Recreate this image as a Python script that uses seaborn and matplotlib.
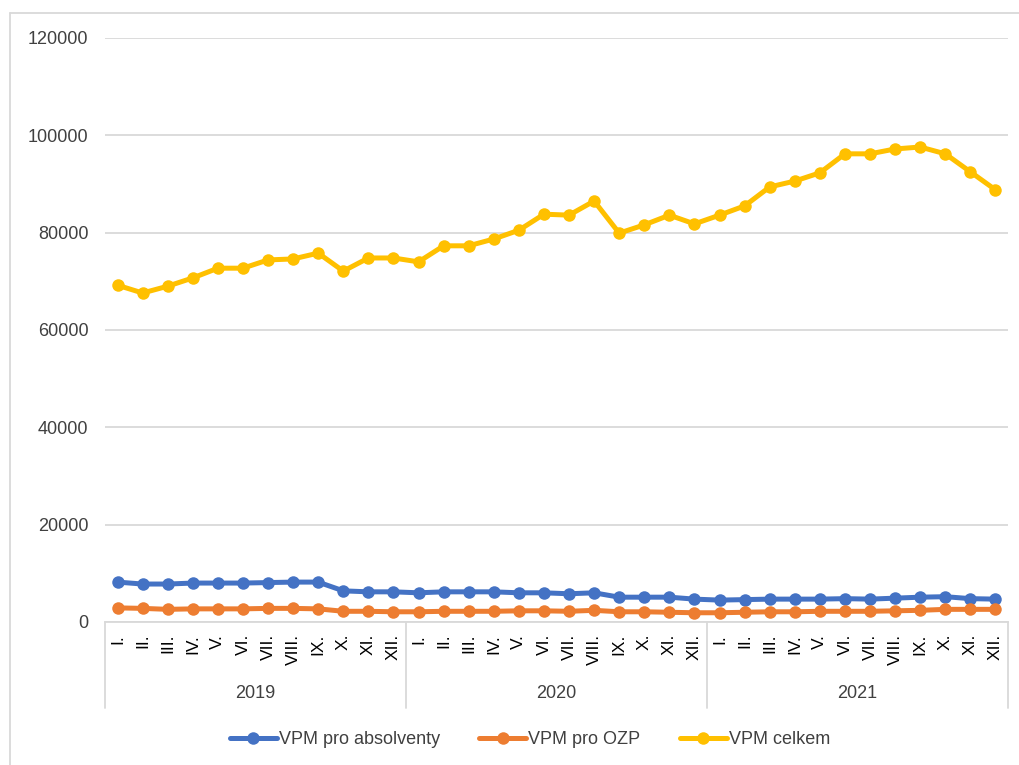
import numpy as np
import pandas as pd
import matplotlib
matplotlib.use("Agg")
import matplotlib.pyplot as plt
import matplotlib.transforms as mtransforms
from matplotlib.lines import Line2D
import seaborn as sns

# --- data ---
years = ["2019", "2020", "2021"]
months = ["I.", "II.", "III.", "IV.", "V.", "VI.", "VII.", "VIII.", "IX.", "X.", "XI.", "XII."]

vpm_absolventy = [8200, 7800, 7800, 8000, 8000, 8000, 8100, 8200, 8200, 6400, 6200, 6200,
                  6000, 6200, 6200, 6200, 6000, 6000, 5800, 6000, 5100, 5100, 5100, 4700,
                  4500, 4600, 4700, 4700, 4700, 4800, 4700, 4900, 5100, 5200, 4800, 4700]
vpm_ozp = [2900, 2800, 2600, 2700, 2700, 2700, 2800, 2800, 2700, 2200, 2200, 2100,
           2100, 2200, 2200, 2200, 2300, 2300, 2200, 2400, 2100, 2100, 2000, 1900,
           1900, 2000, 2100, 2100, 2200, 2200, 2200, 2300, 2400, 2600, 2600, 2600]
vpm_celkem = [69200, 67600, 69000, 70700, 72700, 72700, 74400, 74600, 75800, 72100, 74800, 74800,
              74000, 77300, 77300, 78700, 80500, 83800, 83600, 86500, 79900, 81600, 83600, 81800,
              83600, 85500, 89400, 90600, 92300, 96200, 96200, 97200, 97600, 96200, 92500, 88800]

series_names = ["VPM pro absolventy", "VPM pro OZP", "VPM celkem"]
colors = ["#4472C4", "#ED7D31", "#FFC000"]

# --- long-form table for seaborn ---
month_labels = months * len(years)
pos = np.arange(len(month_labels))
df = pd.concat([
    pd.DataFrame({"pos": pos, "value": vals, "series": name})
    for name, vals in zip(series_names, [vpm_absolventy, vpm_ozp, vpm_celkem])
])

sns.set_theme(style="white")
plt.rcParams["font.family"] = ["Liberation Sans", "DejaVu Sans"]

fig = plt.figure(figsize=(10.19, 7.65), dpi=100)
ax = fig.add_axes([105 / 1019, 143 / 765, 903 / 1019, 584 / 765])

sns.lineplot(data=df, x="pos", y="value", hue="series", hue_order=series_names,
             palette=colors, marker="o", markersize=9, markeredgewidth=0,
             linewidth=3.6, legend=False, ax=ax)

ax.set_xlim(-0.5, len(month_labels) - 0.5)
ax.set_ylim(0, 120000)
ax.set_yticks(np.arange(0, 120001, 20000))
ax.yaxis.grid(True, color="#D9D9D9", linewidth=1.3)
ax.set_axisbelow(True)
ax.set_xlabel("")
ax.set_ylabel("")

ax.set_xticks(pos)
ax.set_xticklabels(month_labels, rotation=90, va="top", ha="center")
ax.tick_params(axis="x", length=0, pad=8.5, labelsize=12.5, colors="#000000")
ax.tick_params(axis="y", length=0, pad=12, labelsize=13, colors="#404040")

for side in ["top", "right", "left"]:
    ax.spines[side].set_visible(False)
ax.spines["bottom"].set_color("#D9D9D9")
ax.spines["bottom"].set_linewidth(1.3)

# year group separators and labels below the month labels
trans = mtransforms.blended_transform_factory(ax.transData, ax.transAxes)
n = len(months)
for i in range(len(years) + 1):
    xs = i * n - 0.5
    ax.add_line(Line2D([xs, xs], [0, -0.147], transform=trans, color="#D9D9D9",
                       linewidth=1.3, clip_on=False))
for i, yr in enumerate(years):
    ax.text(i * n + (n - 1) / 2, -0.122, yr, transform=trans, ha="center", va="center",
            fontsize=13, color="#404040")

# legend below the chart
handles = [Line2D([0], [0], color=c, linewidth=3.6, marker="o", markersize=9,
                  markeredgewidth=0) for c in colors]
fig.legend(handles, series_names, loc="center", bbox_to_anchor=(0.52, 1 - 740 / 765),
           ncol=3, frameon=False, fontsize=13, handlelength=2.6, handletextpad=0.1,
           columnspacing=2.2, labelcolor="#404040")

# thin frame around the chart area
fig.add_artist(Line2D([10 / 1019, 10 / 1019], [0, 1 - 13 / 765], color="#D9D9D9",
                      linewidth=1.3, transform=fig.transFigure))
fig.add_artist(Line2D([10 / 1019, 1], [1 - 13 / 765, 1 - 13 / 765], color="#D9D9D9",
                      linewidth=1.3, transform=fig.transFigure))

fig.savefig("out.png", dpi=100)
